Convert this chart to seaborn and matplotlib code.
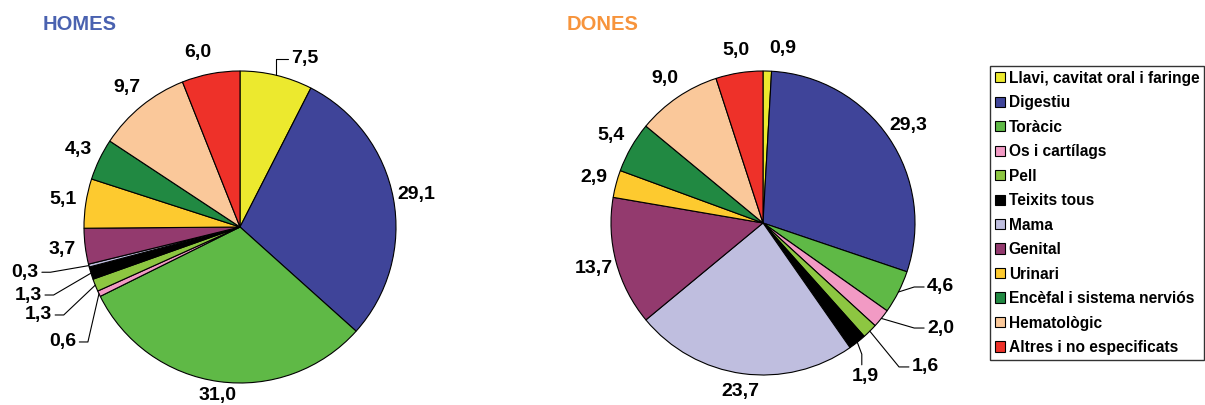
import numpy as np
import matplotlib
matplotlib.use("Agg")
import matplotlib.pyplot as plt
from matplotlib.patches import Patch
import seaborn as sns

# ── Data ─────────────────────────────────────────────────────
categories = ["Llavi, cavitat oral i faringe", "Digestiu", "Toràcic",
              "Os i cartílags", "Pell", "Teixits tous", "Mama", "Genital",
              "Urinari", "Encèfal i sistema nerviós", "Hematològic",
              "Altres i no especificats"]
homes = [7.5, 29.1, 31.0, 0.6, 1.3, 1.3, 0.3, 3.7, 5.1, 4.3, 9.7, 6.0]
dones = [0.9, 29.3, 4.6, 2.0, 1.6, 1.9, 23.7, 13.7, 2.9, 5.4, 9.0, 5.0]

colors = ["#ece92e", "#3f4499", "#5fb946", "#f29ac4", "#8dc641", "#000000",
          "#bfbedf", "#933a6e", "#fdca2f", "#218942", "#fac89a", "#ee3129"]

# ── Style ────────────────────────────────────────────────────
sns.set_style("white")
plt.rcParams["font.family"] = ["Liberation Sans", "DejaVu Sans"]
plt.rcParams["font.weight"] = "bold"
plt.rcParams["text.color"] = "black"
palette = sns.color_palette(colors)

W, H = 1205, 405
fig = plt.figure(figsize=(W / 100, H / 100), dpi=100)


def fmt(v):
    return f"{v:.1f}".replace(".", ",")


def pie_axes(cx, cy, r, x0, x1):
    # cx, cy in pixels from top-left; axes spans full height
    ax = fig.add_axes([x0 / W, 0, (x1 - x0) / W, 1])
    ax.set_xlim((x0 - cx) / r, (x1 - cx) / r)
    ax.set_ylim(-(H - cy) / r, cy / r)
    ax.axis("off")
    return ax


def mid_dir(values, i):
    cum = np.cumsum(values)
    mid = (cum[i] - values[i] / 2) / cum[-1] * 360.0
    a = np.deg2rad(mid)
    return np.sin(a), np.cos(a)


def draw_pie(ax, values, leaders, manual, radial):
    ax.pie(values, colors=palette, startangle=90, counterclock=False,
           radius=1.0, center=(0, 0), frame=True,
           wedgeprops=dict(edgecolor="black", linewidth=0.8))
    ax.axis("off")
    for i, v in enumerate(values):
        dx, dy = mid_dir(values, i)
        if i in leaders:
            kind, lx, ly = leaders[i]
            ex, ey = dx, dy
            if kind == "left":      # text to the left, line goes right
                xs = [lx + 0.02, lx + 0.075, ex]
                ys = [ly, ly, ey]
                ax.text(lx, ly, fmt(v), ha="right", va="center",
                        fontsize=14, fontweight="bold")
            elif kind == "right":   # text to the right, line goes left
                xs = [lx - 0.02, lx - 0.085, ex]
                ys = [ly, ly, ey]
                ax.text(lx, ly, fmt(v), ha="left", va="center",
                        fontsize=14, fontweight="bold")
            elif kind == "up":      # vertical up then horizontal to text
                xs = [ex, ex, lx - 0.02]
                ys = [ey, ly, ly]
                ax.text(lx, ly, fmt(v), ha="left", va="center",
                        fontsize=14, fontweight="bold")
            else:                   # "down": text below, line vertical
                xs = [ex, lx - 0.02, lx - 0.02]
                ys = [ey, ly + 0.15, ly + 0.08]
                ax.text(lx, ly, fmt(v), ha="center", va="center",
                        fontsize=14, fontweight="bold")
            ax.plot(xs, ys, color="black", linewidth=0.8)
        elif i in manual:
            lx, ly = manual[i]
            ax.text(lx, ly, fmt(v), ha="center", va="center",
                    fontsize=14, fontweight="bold")
        else:
            r = radial.get(i, 1.15)
            ax.text(dx * r, dy * r, fmt(v), ha="center", va="center",
                    fontsize=14, fontweight="bold")


# ── HOMES ────────────────────────────────────────────────────
ax1 = pie_axes(240, 227, 156, 0, 500)
draw_pie(ax1, homes,
         leaders={0: ("up", 0.33, 1.08),
                  6: ("left", -1.29, -0.29),
                  5: ("left", -1.27, -0.436),
                  4: ("left", -1.205, -0.564),
                  3: ("left", -1.05, -0.737)},
         manual={11: (-0.27, 1.12)},
         radial={2: 1.09})

# ── DONES ────────────────────────────────────────────────────
ax2 = pie_axes(763, 223, 152, 520, 980)
draw_pie(ax2, dones,
         leaders={2: ("right", 1.08, -0.421),
                  3: ("right", 1.08, -0.691),
                  4: ("right", 0.98, -0.947),
                  5: ("down", 0.67, -1.013)},
         manual={0: (0.13, 1.15)},
         radial={6: 1.12})

fig.text(43 / W, 1 - 24 / H, "HOMES", color="#4a62b0", fontsize=14.5,
         fontweight="bold", ha="left", va="center")
fig.text(567 / W, 1 - 24 / H, "DONES", color="#f7943c", fontsize=14.5,
         fontweight="bold", ha="left", va="center")

# ── Legend ───────────────────────────────────────────────────
handles = [Patch(facecolor=c, edgecolor="black", linewidth=0.8)
           for c in palette]
leg = fig.legend(handles, categories, loc="upper left",
                 bbox_to_anchor=(990 / W, 1 - 66 / H),
                 frameon=True, fancybox=False, edgecolor="black",
                 borderaxespad=0, borderpad=0.3, fontsize=11.2,
                 handlelength=0.64, handleheight=0.64,
                 handletextpad=0.26, labelspacing=0.61)
leg.get_frame().set_linewidth(1.0)
for t in leg.get_texts():
    t.set_fontweight("bold")
    t.set_color("black")

fig.savefig("out.png", dpi=100)
